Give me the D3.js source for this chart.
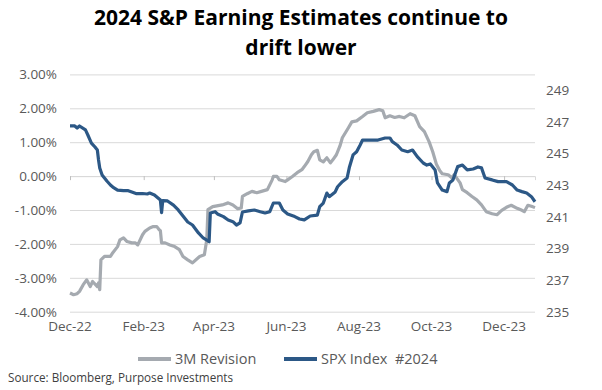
<!DOCTYPE html>
<html><head><meta charset="utf-8">
<script src="https://cdn.jsdelivr.net/npm/d3@7"></script>
<style>
body{margin:0;background:#fff;}
svg{display:block;font-family:"Open Sans",sans-serif;}
</style></head>
<body><svg id="c" width="602" height="390"></svg>
<script>
const titleLines = ["2024 S&P Earning Estimates continue to", "drift lower"];
const seriesNames = ["3M Revision", "SPX Index  #2024"];
const sourceText = "Source: Bloomberg, Purpose Investments";
const leftTicks = [-4, -3, -2, -1, 0, 1, 2, 3];
const rightTicks = [235, 237, 239, 241, 243, 245, 247, 249];
const xTickDates = ["2022-12-01","2023-02-01","2023-04-01","2023-06-01","2023-08-01","2023-10-01","2023-12-01"];

const revisionDates = ["2022-12-01","2022-12-04","2022-12-07","2022-12-09","2022-12-12","2022-12-15","2022-12-18","2022-12-20","2022-12-24","2022-12-25","2022-12-26","2022-12-27","2022-12-30",
"2023-01-04","2023-01-06","2023-01-10","2023-01-12","2023-01-15","2023-01-18","2023-01-22","2023-01-25","2023-01-27","2023-01-31",
"2023-02-02","2023-02-06","2023-02-09","2023-02-12","2023-02-14","2023-02-15","2023-02-16","2023-02-19","2023-02-23","2023-02-27",
"2023-03-03","2023-03-06","2023-03-10","2023-03-14","2023-03-20","2023-03-24","2023-03-26","2023-03-27","2023-03-31",
"2023-04-08","2023-04-13","2023-04-17","2023-04-21","2023-04-24","2023-04-25","2023-04-29",
"2023-05-03","2023-05-07","2023-05-11","2023-05-16","2023-05-20","2023-05-21","2023-05-24","2023-05-26","2023-05-31",
"2023-06-02","2023-06-06","2023-06-10","2023-06-14","2023-06-16","2023-06-19","2023-06-22","2023-06-24","2023-06-27","2023-06-29",
"2023-07-02","2023-07-05","2023-07-08","2023-07-10","2023-07-13","2023-07-16","2023-07-18","2023-07-23","2023-07-26","2023-07-30",
"2023-08-04","2023-08-08","2023-08-13","2023-08-18","2023-08-21","2023-08-23","2023-08-27","2023-08-31",
"2023-09-04","2023-09-08","2023-09-13","2023-09-17","2023-09-21","2023-09-25","2023-09-29",
"2023-10-02","2023-10-05","2023-10-08","2023-10-10","2023-10-15","2023-10-18","2023-10-20","2023-10-22","2023-10-25","2023-10-27","2023-10-31",
"2023-11-04","2023-11-08","2023-11-12","2023-11-16","2023-11-21","2023-11-25","2023-11-29",
"2023-12-03","2023-12-07","2023-12-12","2023-12-16","2023-12-18","2023-12-21","2023-12-24","2023-12-27"];
const revisionValues = [-3.45,-3.50,-3.47,-3.40,-3.21,-3.06,-3.26,-3.11,-3.26,-3.15,-3.35,-2.47,-2.37,
-2.37,-2.26,-2.08,-1.88,-1.82,-1.93,-1.97,-1.97,-2.03,-1.73,
-1.63,-1.53,-1.49,-1.49,-1.58,-1.61,-1.97,-1.97,-2.03,-2.08,
-2.17,-2.37,-2.47,-2.56,-2.37,-2.32,-1.88,-0.99,-0.90,
-0.85,-0.79,-0.85,-0.96,-0.94,-0.60,-0.52,
-0.45,-0.49,-0.45,-0.40,-0.11,-0.01,-0.01,-0.11,-0.16,
-0.11,-0.01,0.10,0.19,0.28,0.43,0.63,0.72,0.76,0.48,
0.42,0.54,0.39,0.48,0.63,0.89,1.13,1.42,1.60,1.63,
1.76,1.87,1.91,1.96,1.93,1.72,1.78,1.73,
1.76,1.72,1.84,1.78,1.46,1.31,1.01,
0.72,0.36,0.16,0.07,0.04,-0.05,0.04,-0.05,-0.20,-0.40,-0.49,
-0.60,-0.70,-0.85,-1.05,-1.11,-1.14,-1.01,
-0.92,-0.86,-0.95,-1.01,-1.05,-0.86,-0.89,-0.93];

const spxDates = ["2022-12-01","2022-12-05","2022-12-07","2022-12-09","2022-12-14","2022-12-16","2022-12-19","2022-12-22","2022-12-24","2022-12-25","2022-12-26","2022-12-28","2022-12-30",
"2023-01-01","2023-01-04","2023-01-06","2023-01-10","2023-01-15","2023-01-19","2023-01-22","2023-01-26","2023-01-31",
"2023-02-04","2023-02-06","2023-02-10","2023-02-13","2023-02-15","2023-02-16","2023-02-17","2023-02-21","2023-02-26",
"2023-03-02","2023-03-06","2023-03-10","2023-03-14","2023-03-19","2023-03-23","2023-03-26","2023-03-28","2023-03-29",
"2023-04-02","2023-04-04","2023-04-09","2023-04-13","2023-04-17","2023-04-20","2023-04-23","2023-04-25","2023-04-30",
"2023-05-05","2023-05-10","2023-05-14","2023-05-18","2023-05-21","2023-05-26","2023-05-29",
"2023-06-02","2023-06-08","2023-06-12","2023-06-16","2023-06-21","2023-06-27","2023-06-29",
"2023-07-02","2023-07-05","2023-07-07","2023-07-12","2023-07-14","2023-07-18","2023-07-22","2023-07-24","2023-07-27","2023-07-30",
"2023-08-02","2023-08-04","2023-08-12","2023-08-17","2023-08-23","2023-08-27","2023-08-29",
"2023-09-02","2023-09-06","2023-09-11","2023-09-15","2023-09-19","2023-09-24","2023-09-27","2023-09-30",
"2023-10-04","2023-10-06","2023-10-10","2023-10-14","2023-10-16","2023-10-19","2023-10-23","2023-10-27","2023-10-31",
"2023-11-05","2023-11-09","2023-11-12","2023-11-15","2023-11-21","2023-11-26",
"2023-12-03","2023-12-08","2023-12-12","2023-12-16","2023-12-20","2023-12-24","2023-12-27"];
const spxValues = [246.74,246.74,246.61,246.74,246.49,246.17,245.66,245.41,245.22,244.59,244.09,243.64,243.45,
243.26,243.01,242.88,242.69,242.65,242.65,242.57,242.46,242.47,
242.44,242.50,242.38,242.19,242.06,241.26,242.02,242.00,241.74,
241.43,241.05,240.67,240.48,239.98,239.66,239.53,239.42,241.24,
241.32,241.18,241.01,240.80,240.69,240.48,240.61,241.30,241.37,
241.43,241.32,241.24,241.32,241.87,241.87,241.43,
241.18,241.01,240.86,240.80,241.05,241.11,241.64,
241.87,242.50,242.27,242.57,242.90,243.22,243.45,244.15,244.91,245.11,
245.54,245.85,245.85,245.85,245.98,245.98,245.75,
245.54,245.22,245.11,245.22,244.80,244.40,244.27,244.34,
243.96,243.14,242.69,242.59,243.14,243.33,244.17,244.27,243.96,
244.02,244.15,244.09,243.45,243.33,243.22,
243.22,243.01,242.69,242.59,242.50,242.27,241.95];

const parse = d3.timeParse("%Y-%m-%d");
const revision = revisionDates.map((d,i)=>({date:parse(d), v:revisionValues[i]}));
const spx = spxDates.map((d,i)=>({date:parse(d), v:spxValues[i]}));

const W=602, H=390;
const plot = {left:70, right:535, top:74.4, bottom:311.7};
const svg = d3.select("#c");
const grayC = "#a5aab0", blueC = "#2c5886", gridC = "#d9d9d9", textC = "#595959";
const tickFont = 13.5;

const x = d3.scaleTime().domain([parse("2022-12-01"), parse("2023-12-27")]).range([plot.left, plot.right]);
const yL = d3.scaleLinear().domain([-4,3]).range([plot.bottom, plot.top]);
const yR = d3.scaleLinear().domain([235,250]).range([plot.bottom, plot.top]);

// title
svg.append("g").selectAll("text").data(titleLines).join("text")
  .attr("x", W/2).attr("y",(d,i)=>24.5+i*30)
  .attr("text-anchor","middle").attr("font-size",21).attr("font-weight","bold").attr("fill","#000")
  .text(d=>d);

// gridlines + left axis
const gl = svg.append("g").attr("transform",`translate(${plot.left},0)`)
  .call(d3.axisLeft(yL).tickValues(leftTicks).tickSize(-(plot.right-plot.left)).tickPadding(13)
    .tickFormat(d=>d.toFixed(2)+"%"));
gl.select(".domain").remove();
gl.selectAll(".tick line").attr("stroke",gridC);
gl.selectAll(".tick text").attr("fill",textC).attr("font-size",tickFont).attr("font-family","Open Sans");

// right axis
const gr = svg.append("g").attr("transform",`translate(${plot.right},0)`)
  .call(d3.axisRight(yR).tickValues(rightTicks).tickSize(0).tickPadding(11).tickFormat(d3.format("d")));
gr.select(".domain").remove();
gr.selectAll(".tick text").attr("fill",textC).attr("font-size",tickFont).attr("font-family","Open Sans");

// x axis ticks crossing at zero
const gx = svg.append("g").attr("transform",`translate(0,${yL(0)})`)
  .call(d3.axisBottom(x).tickValues(xTickDates.map(parse)).tickSize(4).tickFormat(""));
gx.select(".domain").attr("stroke",gridC);
gx.selectAll(".tick line").attr("stroke","#bfbfbf");

// x labels at bottom
svg.append("g").selectAll("text").data(xTickDates.map(parse)).join("text")
  .attr("x",d=>x(d)).attr("y",plot.bottom+19.5)
  .attr("text-anchor","middle").attr("font-size",tickFont).attr("fill",textC)
  .text(d=>d3.timeFormat("%b-%y")(d));

// lines
const lineL = d3.line().x(d=>x(d.date)).y(d=>yL(d.v));
const lineR = d3.line().x(d=>x(d.date)).y(d=>yR(d.v));
svg.append("path").datum(revision).attr("d",lineL).attr("fill","none")
  .attr("stroke",grayC).attr("stroke-width",3.2).attr("stroke-linejoin","round");
svg.append("path").datum(spx).attr("d",lineR).attr("fill","none")
  .attr("stroke",blueC).attr("stroke-width",3.2).attr("stroke-linejoin","round");

// legend
const legend = [{name:seriesNames[0], c:grayC, x:138}, {name:seriesNames[1], c:blueC, x:284}];
const lg = svg.append("g");
legend.forEach(l=>{
  lg.append("line").attr("x1",l.x).attr("x2",l.x+33).attr("y1",359).attr("y2",359)
    .attr("stroke",l.c).attr("stroke-width",4);
  lg.append("text").attr("x",l.x+37).attr("y",364).attr("font-size",14.5).attr("fill",textC)
    .style("white-space","pre").text(l.name);
});

// source
svg.append("text").attr("x",8).attr("y",382).attr("font-size",11.7).attr("fill","#404040").text(sourceText);
</script></body></html>
